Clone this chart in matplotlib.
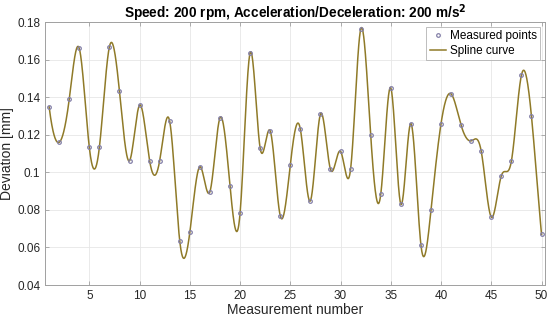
import matplotlib
matplotlib.use('Agg')
import numpy as np
import matplotlib.pyplot as plt

plt.rcParams['font.family'] = ['Liberation Sans', 'DejaVu Sans']

measurement = list(range(1, 51))
deviation = [0.1349, 0.1160, 0.1389, 0.1660, 0.1133, 0.1133, 0.1669, 0.1431, 0.1062, 0.1358,
             0.1062, 0.1062, 0.1271, 0.0634, 0.0680, 0.1030, 0.0897, 0.1290, 0.0929, 0.0782,
             0.1637, 0.1129, 0.1221, 0.0769, 0.1040, 0.1230, 0.0849, 0.1310, 0.1016, 0.1112,
             0.1018, 0.1761, 0.1198, 0.0883, 0.1450, 0.0831, 0.1260, 0.0613, 0.0799, 0.1260,
             0.1418, 0.1250, 0.1168, 0.1112, 0.0762, 0.0982, 0.1060, 0.1518, 0.1298, 0.0670]


def spline_notaknot(x, y, xs):
    # cubic spline with not-a-knot ends (like matlab spline)
    x = np.asarray(x, float)
    y = np.asarray(y, float)
    n = len(x)
    h = np.diff(x)
    A = np.zeros((n, n))
    b = np.zeros(n)
    A[0, 0], A[0, 1], A[0, 2] = h[1], -(h[0] + h[1]), h[0]
    for i in range(1, n - 1):
        A[i, i - 1] = h[i - 1]
        A[i, i] = 2 * (h[i - 1] + h[i])
        A[i, i + 1] = h[i]
        b[i] = 6 * ((y[i + 1] - y[i]) / h[i] - (y[i] - y[i - 1]) / h[i - 1])
    A[-1, -3], A[-1, -2], A[-1, -1] = h[-1], -(h[-2] + h[-1]), h[-2]
    M = np.linalg.solve(A, b)
    idx = np.clip(np.searchsorted(x, xs) - 1, 0, n - 2)
    hi = h[idx]
    a = x[idx + 1] - xs
    c = xs - x[idx]
    return (M[idx] * a**3 / (6 * hi) + M[idx + 1] * c**3 / (6 * hi)
            + (y[idx] / hi - M[idx] * hi / 6) * a
            + (y[idx + 1] / hi - M[idx + 1] * hi / 6) * c)


xs = np.linspace(1, 50, 2000)
ys = spline_notaknot(measurement, deviation, xs)

fig = plt.figure(figsize=(5.5, 3.21), dpi=100)
ax = fig.add_axes([0.082, 0.112, 0.909, 0.819])

ax.plot(measurement, deviation, 'o', markersize=2.6, markerfacecolor='none',
        markeredgecolor='#8480a8', markeredgewidth=0.9, label='Measured points', zorder=3)
ax.plot(xs, ys, '-', color='#8f7a28', linewidth=1.1, label='Spline curve', zorder=2)

ax.set_xlim(0.6, 50.35)
ax.set_ylim(0.04, 0.18)
ax.set_xticks(range(5, 51, 5))
ax.set_yticks([0.04, 0.06, 0.08, 0.1, 0.12, 0.14, 0.16, 0.18])
ax.set_yticklabels(['0.04', '0.06', '0.08', '0.1', '0.12', '0.14', '0.16', '0.18'])
ax.grid(True, color='#e6e6e6', linewidth=0.6)
ax.set_axisbelow(True)
for s in ax.spines.values():
    s.set_color('#a0a0a0')
    s.set_linewidth(0.7)
ax.tick_params(direction='in', length=3, width=0.6, colors='#a0a0a0',
               labelcolor='#262626', labelsize=8.5, top=True, right=True)

ax.set_xlabel('Measurement number', fontsize=10, color='#262626', labelpad=1)
ax.set_ylabel('Deviation [mm]', fontsize=10, color='#262626', labelpad=2)
ax.set_title(r'Speed: 200 rpm, Acceleration/Deceleration: 200 m/s$^{\mathbf{2}}$',
             fontsize=9.8, fontweight='bold', pad=3)

leg = ax.legend(loc='upper right', fontsize=8.5, frameon=True, fancybox=False,
                handlelength=1.4, handletextpad=0.3, borderpad=0.3, labelspacing=0.2,
                borderaxespad=0.4)
leg.get_frame().set_edgecolor('#a0a0a0')
leg.get_frame().set_linewidth(0.6)

plt.savefig('out.png', dpi=100)
